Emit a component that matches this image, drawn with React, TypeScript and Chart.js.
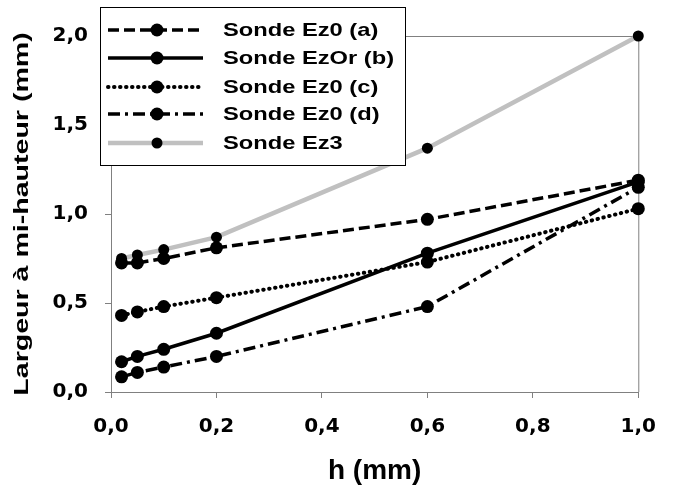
import React, { useEffect, useRef } from "react";
import { Chart, registerables } from "chart.js";

Chart.register(...registerables);

const H_MM = [0.02, 0.05, 0.1, 0.2, 0.6, 1.0];
const EZ0_A = [0.725, 0.725, 0.75, 0.81, 0.97, 1.19];
const EZOR_B = [0.17, 0.2, 0.24, 0.33, 0.78, 1.18];
const EZ0_C = [0.43, 0.45, 0.48, 0.53, 0.73, 1.03];
const EZ0_D = [0.085, 0.11, 0.14, 0.2, 0.48, 1.15];
const EZ3 = [0.75, 0.77, 0.8, 0.87, 1.37, 2.0];

const SERIES_LABELS = ["Sonde Ez0 (a)", "Sonde EzOr (b)", "Sonde Ez0 (c)", "Sonde Ez0 (d)", "Sonde Ez3"];
const X_TITLE = "h (mm)";
const Y_TITLE = "Largeur à mi-hauteur (mm)";

const fmt = (v: number) => Number(v).toFixed(1).replace(".", ",");

const PLOT = { left: 111, right: 654, top: 36, bottom: 392 };

const decor = {
  id: "decor",
  beforeDatasetsDraw(chart: any) {
    const { ctx, chartArea } = chart;
    ctx.save();
    ctx.strokeStyle = "#808080";
    ctx.lineWidth = 1;
    ctx.beginPath();
    ctx.moveTo(chartArea.left, chartArea.top + 0.5);
    ctx.lineTo(chartArea.right + 0.5, chartArea.top + 0.5);
    ctx.lineTo(chartArea.right + 0.5, chartArea.bottom);
    ctx.stroke();
    ctx.restore();
  },
  afterDraw(chart: any) {
    const { ctx, chartArea } = chart;
    ctx.save();
    // axis titles
    ctx.fillStyle = "#000";
    ctx.font = "bold 28px 'Liberation Sans', Arial, sans-serif";
    ctx.textAlign = "center";
    ctx.textBaseline = "alphabetic";
    ctx.fillText(X_TITLE, (chartArea.left + chartArea.right) / 2, 479);

    ctx.save();
    ctx.translate(28, 214);
    ctx.rotate(-Math.PI / 2);
    ctx.scale(1.36, 1);
    ctx.font = "bold 21px 'Liberation Sans', Arial, sans-serif";
    ctx.textAlign = "center";
    ctx.textBaseline = "alphabetic";
    ctx.fillText(Y_TITLE, 0, 0);
    ctx.restore();

    // legend
    const bx = 100, by = 7, bw = 305, bh = 158;
    ctx.fillStyle = "#fff";
    ctx.fillRect(bx, by, bw, bh);
    ctx.strokeStyle = "#000";
    ctx.lineWidth = 1;
    ctx.strokeRect(bx + 0.5, by + 0.5, bw, bh);
    const rows = [30, 58, 87, 114, 143];
    chart.data.datasets.forEach((ds: any, i: number) => {
      const y = rows[i];
      ctx.save();
      ctx.strokeStyle = ds.borderColor;
      ctx.lineWidth = ds.borderWidth;
      ctx.lineCap = ds.borderCapStyle || "butt";
      ctx.setLineDash(ds.borderDash || []);
      ctx.beginPath();
      ctx.moveTo(108, y);
      ctx.lineTo(203, y);
      ctx.stroke();
      ctx.setLineDash([]);
      ctx.fillStyle = "#000";
      ctx.beginPath();
      ctx.arc(157, y, ds.pointRadius, 0, Math.PI * 2);
      ctx.fill();
      ctx.restore();
      ctx.save();
      ctx.translate(223, y);
      ctx.scale(1.28, 1);
      ctx.fillStyle = "#000";
      ctx.font = "bold 18.5px 'Liberation Sans', Arial, sans-serif";
      ctx.textAlign = "left";
      ctx.textBaseline = "middle";
      ctx.fillText(ds.label, 0, 1);
      ctx.restore();
    });
    ctx.restore();
  },
};

function pts(ys: number[]) {
  return H_MM.map((x, i) => ({ x, y: ys[i] }));
}

export default function App() {
  const ref = useRef<HTMLCanvasElement | null>(null);
  useEffect(() => {
    document.body.style.margin = "0";
    const canvas = ref.current!;
    const common = {
      pointBackgroundColor: "#000",
      pointBorderWidth: 0,
      pointHoverRadius: 6.5,
      tension: 0,
      clip: false as any,
      fill: false,
    };
    const chart = new Chart(canvas, {
      type: "line",
      data: {
        datasets: [
          { ...common, label: SERIES_LABELS[0], data: pts(EZ0_A), borderColor: "#000", borderWidth: 3.5, borderDash: [11, 5], pointRadius: 6.5 },
          { ...common, label: SERIES_LABELS[1], data: pts(EZOR_B), borderColor: "#000", borderWidth: 3.5, borderDash: [], pointRadius: 6.5 },
          { ...common, label: SERIES_LABELS[2], data: pts(EZ0_C), borderColor: "#000", borderWidth: 4, borderDash: [0.5, 5.5], borderCapStyle: "round", pointRadius: 6.5 },
          { ...common, label: SERIES_LABELS[3], data: pts(EZ0_D), borderColor: "#000", borderWidth: 3.5, borderDash: [12, 5, 3, 5], pointRadius: 6.5 },
          { ...common, label: SERIES_LABELS[4], data: pts(EZ3), borderColor: "#c0c0c0", borderWidth: 4.5, borderDash: [], pointRadius: 5.5 },
        ] as any,
      },
      options: {
        animation: false,
        responsive: true,
        maintainAspectRatio: false,
        events: [],
        layout: { padding: { top: PLOT.top, right: 673 - PLOT.right, left: 0, bottom: 0 } },
        plugins: { legend: { display: false }, tooltip: { enabled: false }, title: { display: false } },
        scales: {
          x: {
            type: "linear",
            min: 0,
            max: 1,
            afterFit: (s: any) => { s.height = 486 - PLOT.bottom; },
            ticks: {
              stepSize: 0.2,
              callback: (v: any) => fmt(v),
              color: "#000",
              padding: 17,
              maxRotation: 0,
              font: { family: "'DejaVu Sans'", weight: "bold", size: 20 },
            },
            grid: { drawOnChartArea: false, drawTicks: true, tickLength: 6, color: "#808080" },
            border: { display: true, color: "#808080", width: 1 },
          },
          y: {
            type: "linear",
            min: 0,
            max: 2,
            afterFit: (s: any) => { s.width = PLOT.left; },
            ticks: {
              stepSize: 0.5,
              callback: (v: any) => fmt(v),
              color: "#000",
              padding: 17,
              font: { family: "'DejaVu Sans'", weight: "bold", size: 20 },
            },
            grid: { drawOnChartArea: false, drawTicks: true, tickLength: 6, color: "#808080" },
            border: { display: true, color: "#808080", width: 1 },
          },
        },
      } as any,
      plugins: [decor],
    });
    return () => chart.destroy();
  }, []);
  return (
    <div style={{ position: "absolute", left: 0, top: 0, width: 673, height: 486, background: "#fff" }}>
      <canvas ref={ref} />
    </div>
  );
}
